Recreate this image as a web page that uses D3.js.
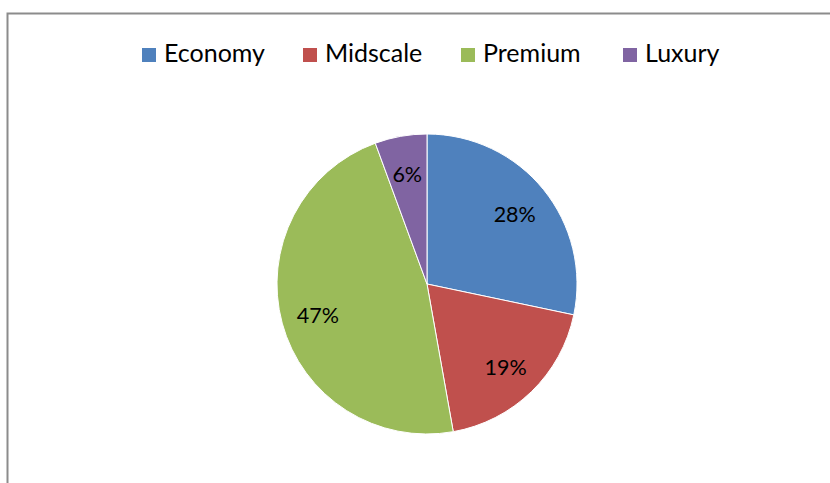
<!DOCTYPE html>
<html><head><meta charset="utf-8">
<script src="https://cdn.jsdelivr.net/npm/d3@7"></script>
<style>body{margin:0;background:#fff}svg{display:block}</style>
</head><body>
<svg id="c" width="830" height="483"></svg>
<script>
const categories = ["Economy", "Midscale", "Premium", "Luxury"];
const values = [28.3, 18.9, 47.2, 5.6];
const labels = ["28%", "19%", "47%", "6%"];
const colors = ["#4F81BD", "#C0504D", "#9BBB59", "#8064A2"];

const svg = d3.select("#c");
const font = "Lato, 'Open Sans', sans-serif";

// chart border
svg.append("rect").attr("x", 7.5).attr("y", 13.5).attr("width", 840).attr("height", 500)
  .attr("fill", "none").attr("stroke", "#8c8c8c").attr("stroke-width", 2);

const cx = 427, cy = 284, r = 150;
const pie = d3.pie().sort(null).value(d => d)(values);
const arc = d3.arc().innerRadius(0).outerRadius(r);
const labelArc = d3.arc().innerRadius(113).outerRadius(113);
const color = d3.scaleOrdinal().domain(categories).range(colors);

const g = svg.append("g").attr("transform", `translate(${cx},${cy})`);
g.selectAll("path").data(pie).join("path")
  .attr("d", arc).attr("fill", (d, i) => color(categories[i]))
  .attr("stroke", "#fff").attr("stroke-width", 1);
g.selectAll("text").data(pie).join("text")
  .attr("transform", d => `translate(${labelArc.centroid(d)})`)
  .attr("text-anchor", "middle").attr("dy", "0.45em")
  .style("font-family", font).style("font-size", "21.5px").attr("fill", "#000")
  .text((d, i) => labels[i]);

// legend
const legX = [142, 303, 461, 623];
const lg = svg.append("g");
categories.forEach((c, i) => {
  lg.append("rect").attr("x", legX[i]).attr("y", 48).attr("width", 14).attr("height", 14).attr("fill", color(c));
  lg.append("text").attr("x", legX[i] + 22).attr("y", 62)
    .style("font-family", font).style("font-size", "25px").attr("fill", "#000").text(c);
});
</script>
</body></html>
